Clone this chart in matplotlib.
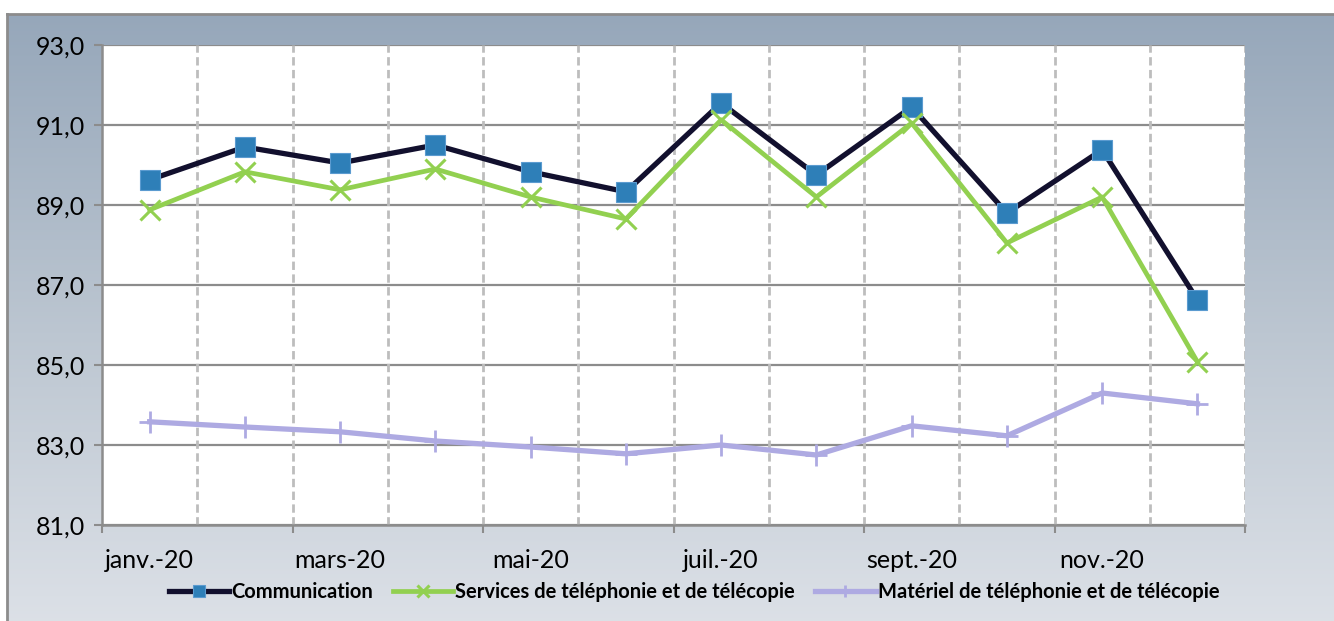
import matplotlib
matplotlib.use("Agg")
import matplotlib.pyplot as plt
import numpy as np
from matplotlib.colors import LinearSegmentedColormap
from matplotlib.ticker import FuncFormatter

# data
months = ["janv.-20", "févr.-20", "mars-20", "avr.-20", "mai-20", "juin-20",
          "juil.-20", "août-20", "sept.-20", "oct.-20", "nov.-20", "déc.-20"]
communication = [89.63, 90.45, 90.05, 90.5, 89.83, 89.33,
                 91.55, 89.75, 91.45, 88.8, 90.38, 86.63]
services = [88.88, 89.83, 89.38, 89.9, 89.2, 88.65,
            91.13, 89.2, 91.05, 88.05, 89.2, 85.08]
materiel = [83.58, 83.45, 83.33, 83.1, 82.95, 82.78,
            83.0, 82.75, 83.48, 83.23, 84.3, 84.03]
y_ticks = [81, 83, 85, 87, 89, 91, 93]

plt.rcParams['font.family'] = ['Lato', 'DejaVu Sans']

W, H = 1334, 621
fig = plt.figure(figsize=(W / 100, H / 100), dpi=100)
fig.patch.set_facecolor("white")

# gradient frame behind the chart
bg = fig.add_axes([7 / W, -0.05, 1.0, 1 - 14 / H + 0.05])
cmap = LinearSegmentedColormap.from_list("bg", ["#96a7ba", "#bcc6d1", "#dfe3e9"])
grad = np.linspace(0, 1, 256).reshape(-1, 1)
bg.imshow(grad, aspect="auto", cmap=cmap, extent=[0, 1, 0, 1])
bg.set_xticks([])
bg.set_yticks([])
for s in ["right", "bottom"]:
    bg.spines[s].set_visible(False)
for s in ["left", "top"]:
    bg.spines[s].set_color("#8c8c8c")
    bg.spines[s].set_linewidth(2)

ax = fig.add_axes([102 / W, 1 - 525 / H, 1143 / W, 480 / H])
ax.set_facecolor("white")
x = np.arange(len(months))

ax.plot(x, communication, color="#12102e", lw=3.8, marker="s", ms=14,
        mfc="#2e7fb8", mec="#5b9bd0", mew=0.8, label="Communication", zorder=3)
ax.plot(x, services, color="#92d050", lw=3.4, marker="x", ms=14, mew=2.2,
        label="Services de téléphonie et de télécopie", zorder=4)
ax.plot(x, materiel, color="#aeaae2", lw=3.8, marker="+", ms=16, mew=2,
        label="Matériel de téléphonie et de télécopie", zorder=3)

ax.set_xlim(-0.5, len(months) - 0.5)
ax.set_ylim(81, 93)
ax.set_yticks(y_ticks)
ax.yaxis.set_major_formatter(FuncFormatter(lambda v, p: f"{v:.1f}".replace(".", ",")))
ax.grid(axis="y", color="#8c8c8c", lw=1.6)
for b in np.arange(0.5, len(months), 1.0):
    ax.axvline(b, color="#bdbdbd", lw=2.0, ls=(0, (3, 1.6)), zorder=1)
ax.set_axisbelow(True)

ax.set_xticks(x[::2])
ax.set_xticklabels(months[::2])
ax.set_xticks(np.arange(-0.5, len(months), 2.0), minor=True)
ax.tick_params(axis="x", which="major", length=0, labelsize=18, pad=17)
ax.tick_params(axis="x", which="minor", length=6, width=1.5, color="#8c8c8c")
ax.tick_params(axis="y", length=6, width=1.5, color="#8c8c8c", labelsize=18, pad=6)

ax.spines["top"].set_visible(False)
ax.spines["right"].set_visible(False)
for s in ["left", "bottom"]:
    ax.spines[s].set_color("#8c8c8c")
    ax.spines[s].set_linewidth(1.8)

leg = fig.legend(loc="center", bbox_to_anchor=(694 / W, 1 - 592 / H), ncol=3,
                 frameon=False, handlelength=3.0, handletextpad=0.1,
                 columnspacing=1.0, prop={"weight": "bold", "size": 14.5})
for h in leg.legend_handles:
    h.set_markersize(9)

fig.savefig("out.png", dpi=100)
